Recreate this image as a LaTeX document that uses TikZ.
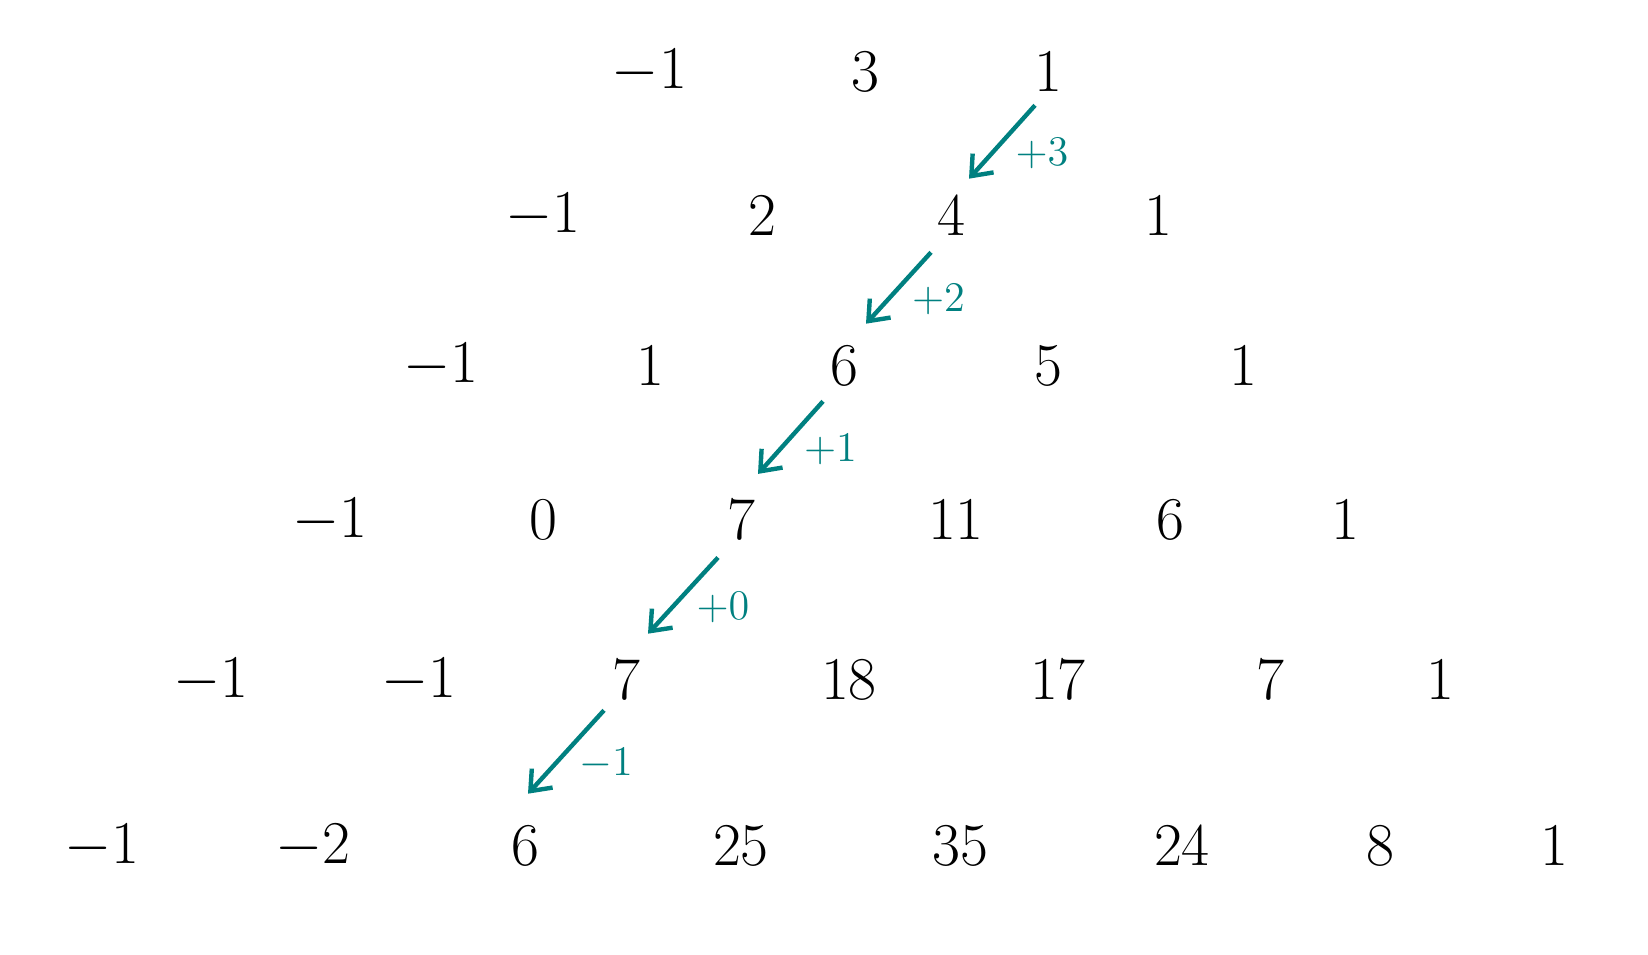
\documentclass[tikz,border=0pt]{standalone}
\usetikzlibrary{arrows.meta}
\tikzset{%
  entry/.style     = {inner sep=2pt, font=\fontsize{16.5}{20}\selectfont},%
  stepline/.style  = {draw=teal, line width=1.25pt,%
                      -{Straight Barb[length=5pt,width=8pt]}},%
  steplabel/.style = {text=teal, inner sep=1pt, font=\fontsize{13}{16}\selectfont,%
                      shift={(40,12)}}%
}
\begin{document}
\begin{tikzpicture}[x=0.01cm, y=-0.01cm]
	\useasboundingbox (0,0) rectangle (1648,954);
	% row 0
	\node[entry] (a0) at (649.5,71.5) {$-1$};
	\node[entry] (a1) at (865,71.5)   {$3$};
	\node[entry] (a2) at (1048,71.5)  {$1$};
	% row 1
	\node[entry] (b0) at (543,215.5)  {$-1$};
	\node[entry] (b1) at (762,215.5)  {$2$};
	\node[entry] (b2) at (951,215.5)  {$4$};
	\node[entry] (b3) at (1158,215.5) {$1$};
	% row 2
	\node[entry] (c0) at (441,365.7)  {$-1$};
	\node[entry] (c1) at (650.5,365.7) {$1$};
	\node[entry] (c2) at (844,365.7)  {$6$};
	\node[entry] (c3) at (1048,365.7) {$5$};
	\node[entry] (c4) at (1243,365.7) {$1$};
	% row 3
	\node[entry] (d0) at (330,520.2)  {$-1$};
	\node[entry] (d1) at (543,520.2)  {$0$};
	\node[entry] (d2) at (741,520.2)  {$7$};
	\node[entry] (d3) at (956,520.2)  {$11$};
	\node[entry] (d4) at (1170,520.2) {$6$};
	\node[entry] (d5) at (1345,520.2) {$1$};
	% row 4
	\node[entry] (e0) at (211,680)    {$-1$};
	\node[entry] (e1) at (419,680)    {$-1$};
	\node[entry] (e2) at (626,680)    {$7$};
	\node[entry] (e3) at (849,680)    {$18$};
	\node[entry] (e4) at (1058,680)   {$17$};
	\node[entry] (e5) at (1270,680)   {$7$};
	\node[entry] (e6) at (1440,680)   {$1$};
	% row 5
	\node[entry] (f0) at (102,846)    {$-1$};
	\node[entry] (f1) at (313,846)    {$-2$};
	\node[entry] (f2) at (525.5,846)  {$6$};
	\node[entry] (f3) at (741,846)    {$25$};
	\node[entry] (f4) at (960.6,846)  {$35$};
	\node[entry] (f5) at (1182,846)   {$24$};
	\node[entry] (f6) at (1380,846)   {$8$};
	\node[entry] (f7) at (1554,846)   {$1$};
	% steps down the diagonal
	\draw[stepline] ([shift={(-13,6.5)}]a2.south) -- ([shift={(18,-9.5)}]b2.north)
		node[steplabel, midway] {$+3$};
	\draw[stepline] ([shift={(-20,9.5)}]b2.south) -- ([shift={(22,-14.7)}]c2.north)
		node[steplabel, midway] {$+2$};
	\draw[stepline] ([shift={(-21,8.3)}]c2.south) -- ([shift={(17,-19)}]d2.north)
		node[steplabel, midway] {$+1$};
	\draw[stepline] ([shift={(-23,10)}]d2.south) -- ([shift={(22,-19)}]e2.north)
		node[steplabel, midway] {$+0$};
	\draw[stepline] ([shift={(-22,3)}]e2.south) -- ([shift={(2.5,-25)}]f2.north)
		node[steplabel, midway] {$-1$};
\end{tikzpicture}
\end{document}
